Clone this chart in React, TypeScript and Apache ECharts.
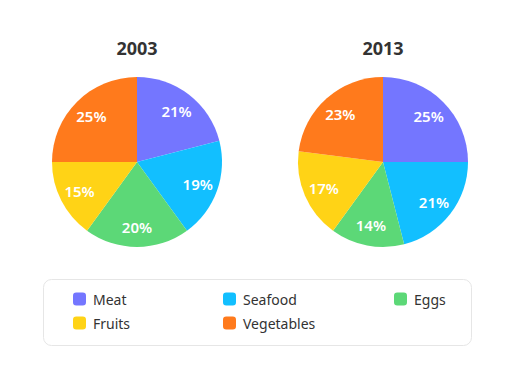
import React, { useEffect, useRef } from "react";
import * as echarts from "echarts";

const categories = ["Meat", "Seafood", "Eggs", "Fruits", "Vegetables"];
const colors = ["#7476FF", "#12BFFF", "#5CD877", "#FFD316", "#FF7A1C"];
const years = ["2003", "2013"];
const values2003 = [21, 19, 20, 15, 25];
const values2013 = [25, 21, 14, 17, 23];

const FONT = "'Noto Sans', sans-serif";

export default function App() {
  const ref = useRef<HTMLDivElement>(null);
  useEffect(() => {
    if (!ref.current) return;
    const chart = echarts.init(ref.current, undefined, { renderer: "svg" });
    const centers = [[137, 162], [383, 162]];
    const allValues = [values2003, values2013];
    const series: any[] = [];
    allValues.forEach((vals, i) => {
      const data = categories.map((c, j) => ({ name: c, value: vals[j], itemStyle: { color: colors[j] } }));
      series.push({
        type: "pie",
        center: centers[i],
        radius: [0, 85],
        data,
        label: { show: false },
        labelLine: { show: false },
        emphasis: { disabled: true },
      });
      series.push({
        type: "pie",
        center: centers[i],
        radius: [38, 85],
        silent: true,
        data: categories.map((c, j) => ({ name: c, value: vals[j], itemStyle: { color: "rgba(0,0,0,0)" } })),
        label: {
          show: true,
          position: "inside",
          formatter: "{c}%",
          color: "#fff",
          fontSize: 15,
          fontWeight: 600,
          fontFamily: FONT,
        },
        labelLine: { show: false },
        emphasis: { disabled: true },
        tooltip: { show: false },
      });
    });
    const legendBase = {
      orient: "vertical",
      top: 292,
      padding: 0,
      itemWidth: 13,
      itemHeight: 13,
      itemGap: 10,
      icon: "roundRect",
      textStyle: { color: "#333", fontSize: 14, fontFamily: FONT, padding: [0, 0, 0, 2] },
    };
    chart.setOption({
      animation: false,
      textStyle: { fontFamily: FONT },
      title: years.map((y, i) => ({
        text: y,
        left: centers[i][0],
        top: 39,
        padding: 0,
        textAlign: "center",
        textStyle: { fontSize: 18, fontWeight: "bold", color: "#333", fontFamily: FONT },
      })),
      graphic: [
        {
          type: "rect",
          shape: { x: 43.5, y: 279.5, width: 428, height: 66, r: 8 },
          style: { fill: "#fff", stroke: "#e6e6e6", lineWidth: 1 },
          z: -1,
        },
      ],
      legend: [
        { ...legendBase, left: 73, data: [categories[0], categories[3]] },
        { ...legendBase, left: 223, data: [categories[1], categories[4]] },
        { ...legendBase, left: 394, data: [categories[2]] },
      ],
      series,
    });
    return () => chart.dispose();
  }, []);
  return (
    <div
      ref={ref}
      style={{ position: "fixed", left: 0, top: 0, width: 519, height: 386, background: "#fff" }}
    />
  );
}
